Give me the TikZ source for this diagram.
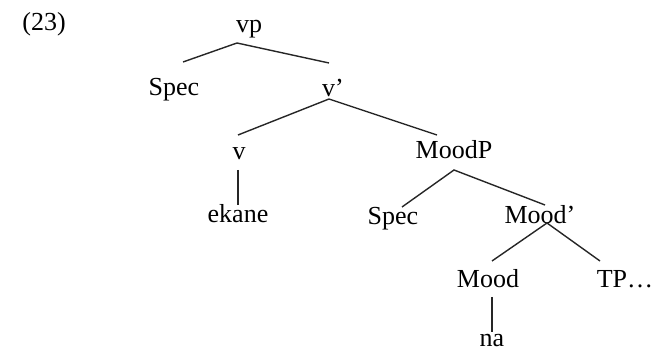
\documentclass[tikz,border=0pt]{standalone}
\usepackage{fontspec}
\setmainfont{Liberation Serif}
\begin{document}
\begin{tikzpicture}[x=1pt,y=-1pt,
  lab/.style={inner sep=0pt,font=\fontsize{26}{30}\selectfont,anchor=base},
  edge/.style={line width=1.4pt,draw=black!85}]
\useasboundingbox (0,0) rectangle (654,352);
\node[lab] (ex) at (44,31) {(23)};
\node[lab] (vp) at (249,33) {vp};
\node[lab] (spec1) at (174,96) {Spec};
\node[lab] (vbar) at (333,97) {v’};
\node[lab] (v) at (239,160) {v};
\node[lab] (ekane) at (238,223) {ekane};
\node[lab] (moodp) at (454,159) {MoodP};
\node[lab] (spec2) at (393,225) {Spec};
\node[lab] (moodbar) at (540,224) {Mood’};
\node[lab] (mood) at (488,288) {Mood};
\node[lab] (tp) at (625,288) {TP…};
\node[lab] (na) at (492,347) {na};
% attachment points
\coordinate (vpB) at (237,43);
\coordinate (spec1T) at (183,62);
\coordinate (vbarT) at (329,63);
\coordinate (vbarB) at (329,99);
\coordinate (vT) at (238,135);
\coordinate (vB) at (238,170);
\coordinate (ekaneT) at (238,205);
\coordinate (moodpT) at (437,135);
\coordinate (moodpB) at (454,170);
\coordinate (spec2T) at (402,207);
\coordinate (moodbarT) at (545,205);
\coordinate (moodbarB) at (547,223);
\coordinate (moodT) at (492,261);
\coordinate (tpT) at (600,261);
\coordinate (moodB) at (492,297);
\coordinate (naT) at (492,332);
\draw[edge] (spec1T) -- (vpB) -- (vbarT);
\draw[edge] (vT) -- (vbarB) -- (moodpT);
\draw[edge] (vB) -- (ekaneT);
\draw[edge] (spec2T) -- (moodpB) -- (moodbarT);
\draw[edge] (moodT) -- (moodbarB) -- (tpT);
\draw[edge] (moodB) -- (naT);
\end{tikzpicture}
\end{document}
